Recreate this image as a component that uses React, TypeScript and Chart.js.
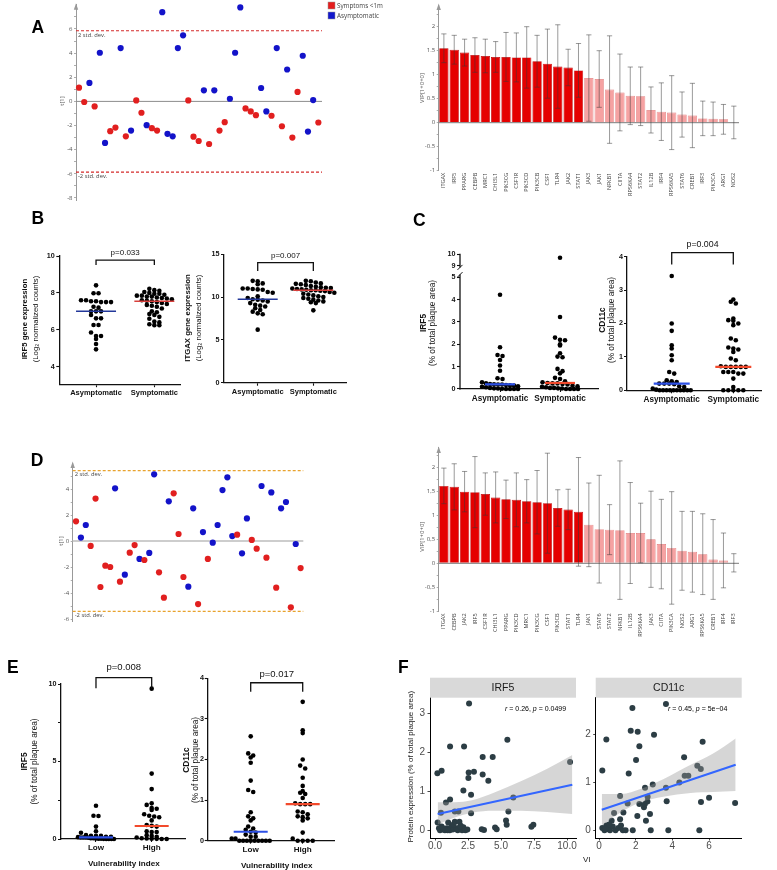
import React, { useEffect, useRef } from 'react';
import { Chart, registerables } from 'chart.js';

Chart.register(...registerables);

const PW = 777;
const PH = 870;
const ARIAL = "'Liberation Sans', Arial, Helvetica, sans-serif";
const SIMCA = "'Open Sans', 'Noto Sans', 'DejaVu Sans', sans-serif";

/* ======================= DATA ======================= */
// Panel A - PLS-DA scores t[1] (S = Symptoms <1m, A = Asymptomatic)
const scoresA = [1.14, -0.05, 1.53, -0.42, 4.03, -3.44, -2.47, -2.17, 4.42, -2.89, -2.42, 0.08, -0.94, -1.97, -2.22, -2.42, 7.39, -2.69, -2.89, 4.42, 5.47, 0.08, -2.92, -3.28, 0.92, -3.53, 0.92, -2.42, -1.72, 0.22, 4.03, 7.78, -0.58, -0.83, -1.14, 1.11, -0.83, -1.19, 4.42, -2.06, 2.64, -3.0, 0.78, 3.78, -2.5, 0.11, -1.75];
const classesA = 'SSASAASSASASSASSAAAAASSSASASSAAASSSAASASASSAAAS'.split('');
const scoreTicksA = [-8, -7, -6, -5, -4, -3, -2, -1, 0, 1, 2, 3, 4, 5, 6, 7];
const scoreLabelsA = [-8, -6, -4, -2, 0, 2, 4, 6];
const sdA = 5.85;

// Panel D - scores t[1]
const scoresD = [1.51, 0.26, 1.23, -0.38, 3.26, -3.54, -1.9, -2.0, 4.05, -3.13, -2.59, -0.9, -0.31, -1.38, -1.46, -0.92, 5.13, -2.41, -4.36, 3.05, 3.67, 0.54, -2.77, -3.51, 2.51, -4.85, 0.69, -1.38, -0.13, 1.23, 3.92, 4.9, 0.38, 0.49, -0.95, 1.74, 0.08, -0.59, 4.23, -1.28, 3.74, -3.59, 2.51, 3.0, -5.1, -0.23, -2.08];
const classesD = 'SAASSSSSASASSASAASSASSSAASASAAAAASAASSASASAASAS'.split('');
const scoreTicksD = [-6, -5, -4, -3, -2, -1, 0, 1, 2, 3, 4, 5];
const scoreLabelsD = [-6, -4, -2, 0, 2, 4];
const sdD = 5.41;

// Panel A / D - VIP bars
const genesA = ['ITGAX', 'IRF5', 'PPARG', 'CEBPB', 'MRC1', 'CHI3L1', 'PIK3CG', 'CSF1R', 'PIK3CD', 'PIK3CB', 'CSF1', 'TLR4', 'JAK2', 'STAT1', 'JAK3', 'JAK1', 'NFKB1', 'CIITA', 'RPS6KA4', 'STAT2', 'IL12B', 'IRF4', 'RPS6KA5', 'STAT6', 'CREB1', 'IRF3', 'PIK3CA', 'ARG1', 'NOS2'];
const vipA = [1.55, 1.52, 1.46, 1.41, 1.39, 1.37, 1.37, 1.36, 1.36, 1.28, 1.23, 1.17, 1.15, 1.09, 0.93, 0.91, 0.69, 0.63, 0.56, 0.55, 0.265, 0.23, 0.21, 0.17, 0.15, 0.09, 0.08, 0.07, 0.005];
const vipErrA = [0.3, 0.3, 0.28, 0.36, 0.35, 0.32, 0.51, 0.51, 0.64, 0.54, 0.72, 0.87, 0.38, 0.56, 0.9, 0.59, 1.12, 0.8, 0.6, 0.61, 0.48, 0.6, 0.77, 0.47, 0.67, 0.36, 0.35, 0.31, 0.34];
const genesD = ['ITGAX', 'CEBPB', 'JAK2', 'IRF5', 'CSF1R', 'CHI3L1', 'PPARG', 'PIK3CD', 'MRC1', 'PIK3CG', 'CSF1', 'PIK3CB', 'STAT1', 'TLR4', 'JAK1', 'STAT6', 'STAT2', 'NFKB1', 'IL12B', 'RPS6KA4', 'JAK3', 'CIITA', 'PIK3CA', 'NOS2', 'ARG1', 'RPS6KA5', 'CREB1', 'IRF4', 'IRF3'];
const vipD = [1.61, 1.59, 1.49, 1.48, 1.44, 1.37, 1.33, 1.32, 1.29, 1.27, 1.25, 1.15, 1.12, 1.07, 0.8, 0.71, 0.7, 0.69, 0.63, 0.63, 0.5, 0.4, 0.32, 0.26, 0.24, 0.19, 0.08, 0.06, 0.01];
const vipErrD = [0.37, 0.48, 0.42, 0.74, 0.44, 0.53, 0.4, 0.56, 0.45, 0.66, 1.04, 0.38, 0.42, 1.13, 0.87, 1.12, 0.52, 1.44, 1.05, 0.62, 1.0, 0.93, 1.17, 0.82, 0.84, 0.84, 0.83, 0.57, 0.19];
const vipTicks = [-1, -0.75, -0.5, -0.25, 0, 0.25, 0.5, 0.75, 1, 1.25, 1.5, 1.75, 2, 2.25];
const vipLabels = [-1, -0.5, 0, 0.5, 1, 1.5, 2];

// Panel B - gene expression (log2 normalized counts)
const groupsSympt = ['Asymptomatic', 'Symptomatic'];
const irf5GeneAsym = [8.41, 7.98, 7.98, 7.6, 7.6, 7.55, 7.55, 7.5, 7.5, 7.5, 7.25, 7.2, 7.0, 7.0, 7.0, 6.8, 6.62, 6.62, 6.26, 6.26, 5.85, 5.66, 5.66, 5.5, 5.23, 4.94];
const irf5GeneSym = [8.22, 8.15, 8.12, 8.05, 8.0, 7.95, 7.95, 7.9, 7.85, 7.85, 7.8, 7.8, 7.75, 7.72, 7.7, 7.65, 7.6, 7.58, 7.55, 7.5, 7.45, 7.4, 7.35, 7.3, 7.25, 7.15, 7.0, 6.95, 6.85, 6.8, 6.7, 6.6, 6.45, 6.4, 6.3, 6.25, 6.25];
const itgaxGeneAsym = [11.9, 11.85, 11.6, 11.5, 11.0, 11.0, 10.95, 10.9, 10.85, 10.6, 10.5, 10.1, 9.9, 9.75, 9.7, 9.6, 9.5, 9.3, 9.1, 9.0, 8.9, 8.7, 8.5, 8.3, 8.1, 8.0, 6.2];
const itgaxGeneSym = [11.9, 11.85, 11.7, 11.6, 11.55, 11.5, 11.4, 11.3, 11.2, 11.15, 11.1, 11.05, 11.0, 10.95, 10.9, 10.85, 10.8, 10.8, 10.75, 10.7, 10.6, 10.5, 10.4, 10.3, 10.2, 10.1, 10.0, 9.9, 9.8, 9.7, 9.6, 9.5, 9.4, 9.3, 8.45];
const medianIrf5Gene = [7.0, 7.55];
const medianItgaxGene = [9.74, 10.79];

// Panel C - protein (% of total plaque area)
const irf5ProtAsym = [4.22, 1.87, 1.52, 1.48, 1.3, 1.05, 0.82, 0.48, 0.45, 0.3, 0.25, 0.22, 0.21, 0.2, 0.2, 0.18, 0.17, 0.15, 0.12, 0.1, 0.08, 0.05, 0.03, 0.02, 0.01, 0.0, 0.0, 0.0, 0.0];
const irf5ProtSym = [9.7, 3.22, 2.3, 2.2, 2.18, 2.0, 1.95, 1.6, 1.45, 1.42, 0.9, 0.8, 0.7, 0.5, 0.45, 0.35, 0.3, 0.27, 0.25, 0.25, 0.22, 0.2, 0.15, 0.12, 0.1, 0.08, 0.05, 0.05, 0.03, 0.02, 0.0, 0.0, 0.0, 0.0];
const cd11cProtAsym = [3.42, 2.0, 1.78, 1.35, 1.25, 1.05, 0.9, 0.55, 0.5, 0.3, 0.27, 0.25, 0.2, 0.2, 0.2, 0.18, 0.12, 0.1, 0.05, 0.02, 0, 0, 0, 0, 0, 0, 0, 0, 0, 0];
const cd11cProtSym = [2.72, 2.65, 2.6, 2.15, 2.1, 2.08, 2.0, 1.95, 1.55, 1.5, 1.28, 1.25, 1.22, 1.15, 0.95, 0.9, 0.72, 0.7, 0.7, 0.7, 0.7, 0.7, 0.55, 0.55, 0.55, 0.5, 0.5, 0.35, 0.1, 0, 0, 0, 0, 0];
const medianIrf5Prot = [0.21, 0.27];
const medianCd11cProt = [0.2, 0.7];

// Panel E - by vulnerability index
const groupsVI = ['Low', 'High'];
const irf5Low = [2.15, 1.5, 1.48, 0.8, 0.5, 0.4, 0.25, 0.2, 0.2, 0.2, 0.15, 0.15, 0.12, 0.1, 0.1, 0.1, 0.08, 0.05, 0.05, 0.03, 0.02, 0.02, 0.01, 0, 0, 0, 0];
const irf5High = [9.7, 4.22, 3.22, 2.3, 2.2, 2.0, 1.95, 1.87, 1.6, 1.5, 1.45, 1.4, 1.2, 0.9, 0.85, 0.8, 0.5, 0.45, 0.45, 0.25, 0.2, 0.15, 0.1, 0.05, 0.03, 0.02, 0.01, 0, 0];
const cd11cLow = [2.57, 2.15, 2.1, 2.05, 1.92, 1.48, 1.25, 1.2, 0.7, 0.6, 0.55, 0.5, 0.35, 0.3, 0.27, 0.22, 0.2, 0.15, 0.1, 0.1, 0.05, 0.05, 0, 0, 0, 0, 0, 0, 0, 0, 0];
const cd11cHigh = [3.42, 2.72, 2.65, 2.0, 1.85, 1.78, 1.55, 1.35, 1.22, 1.18, 1.15, 1.05, 0.92, 0.9, 0.9, 0.9, 0.72, 0.7, 0.65, 0.6, 0.58, 0.55, 0.5, 0.2, 0.05, 0, 0, 0, 0];
const medianIrf5VI = [0.1, 0.84];
const medianCd11cVI = [0.22, 0.9];

// Panel F - correlation with VI
const viIrf5 = [2.58, 0.18, 0.5, 1.14, 2.2, 5.48, 3.61, 4.37, 2.55, 2.95, 2.53, 3.61, 4.04, 2.15, 2.73, 1.14, 0.83, 0.45, 2.73, 5.56, 5.93, 10.23, 7.45, 7.3, 5.38, 5.43, 4.55, 4.67, 3.54, 3.71, 1.5, 1.77, 0.2, 0.3, 0.38, 0.5, 0.62, 0.75, 0.9, 1.0, 1.12, 1.25, 1.35, 1.5, 1.6, 1.72, 1.85, 1.95, 2.05, 2.15, 2.3, 2.45, 1.4, 0.95, 0.6, 1.9];
const protIrf5 = [3.25, 1.46, 1.53, 2.15, 2.15, 2.32, 1.88, 1.88, 1.48, 1.5, 1.34, 1.43, 1.27, 1.02, 0.91, 0.79, 0.71, 0.45, 0.44, 0.48, 0.84, 1.75, 0.14, 0.09, 0.25, 0.14, 0.07, 0.03, 0.03, 0.01, 0.48, 0.48, 0.2, 0.05, 0.0, 0.1, 0.02, 0.0, 0.05, 0.2, 0.0, 0.1, 0.02, 0.22, 0.05, 0.0, 0.22, 0.12, 0.0, 0.08, 0.0, 0.02, 0.15, 0.0, 0.05, 0.1];
const viCd11c = [3.65, 1.82, 1.73, 2.11, 3.0, 0.4, 2.2, 5.65, 2.02, 4.64, 5.36, 5.55, 4.67, 4.87, 0.18, 1.62, 4.38, 2.93, 2.51, 3.65, 2.65, 2.64, 1.15, 1.56, 2.2, 3.69, 5.56, 6.0, 7.42, 2.45, 1.33, 2.09, 2.78, 2.56, 0.82, 1.15, 0.69, 1.84, 2.82, 3.78, 5.47, 0.18, 0.3, 0.4, 0.5, 0.6, 0.75, 0.9, 1.05, 1.3, 1.45, 0.55, 0.35, 1.2, 2.5];
const protCd11c = [2.64, 2.56, 2.08, 2.06, 2.0, 1.9, 1.76, 1.85, 1.47, 1.53, 1.35, 1.28, 1.14, 1.14, 1.25, 1.19, 1.0, 0.96, 0.89, 0.89, 0.7, 0.6, 0.72, 0.56, 0.55, 0.61, 0.59, 0.68, 0.57, 0.48, 0.37, 0.3, 0.34, 0.2, 0.36, 0.23, 0.2, 0.0, 0.0, 0.0, 0.0, 0.05, 0.0, 0.1, 0.02, 0.0, 0.08, 0.0, 0.05, 0.0, 0.0, 0.12, 0.03, 0.1, 0.55];
const fitIrf5 = [[0.2, 0.42], [10.4, 1.17]];
const bandXIrf5 = [0.2, 1.5, 2.8, 4.5, 6.5, 8.5, 10.4];
const bandLoIrf5 = [0.15, 0.33, 0.45, 0.5, 0.5, 0.47, 0.42];
const bandHiIrf5 = [0.72, 0.72, 0.77, 0.97, 1.26, 1.58, 1.93];
const fitCd11c = [[0.15, 0.43], [7.45, 1.37]];
const bandXCd11c = [0.15, 1.2, 2.3, 3.5, 5.0, 6.2, 7.45];
const bandLoCd11c = [0.1, 0.38, 0.59, 0.7, 0.78, 0.8, 0.82];
const bandHiCd11c = [0.76, 0.76, 0.87, 1.07, 1.37, 1.6, 1.92];
const fTicksXIrf5 = [0, 2.5, 5, 7.5, 10];
const fTicksYIrf5 = [0, 1, 2, 3];
const fTicksXCd11c = [0, 2, 4, 6];
const fTicksYCd11c = [0, 1, 2];

/* ======================= HELPERS ======================= */
const fitTo = (size: number) => (s: any) => {
  if (s.isHorizontal()) s.height = size;
  else s.width = size;
  s.paddingLeft = 0;
  s.paddingRight = 0;
  s.paddingTop = 0;
  s.paddingBottom = 0;
};

// chart area placed at [l,t,r,b]; the y axis box is W wide and the x axis box is H high
function base(l: number, t: number, r: number, b: number, W: number, H: number) {
  return {
    animation: false,
    responsive: false,
    maintainAspectRatio: false,
    devicePixelRatio: 1,
    events: [],
    layout: { padding: { left: l - W, top: t, right: PW - r, bottom: PH - b - H } },
    plugins: { legend: { display: false }, tooltip: { enabled: false }, title: { display: false } },
  };
}

function drawText(ctx: any, text: string, x: number, y: number, font: string, color: string, align = 'center', baseline = 'middle', rot = 0) {
  ctx.save();
  ctx.translate(x, y);
  if (rot) ctx.rotate(rot);
  ctx.font = font;
  ctx.fillStyle = color;
  ctx.textAlign = align;
  ctx.textBaseline = baseline;
  ctx.fillText(text, 0, 0);
  ctx.restore();
}

function line(ctx: any, x1: number, y1: number, x2: number, y2: number) {
  ctx.beginPath();
  ctx.moveTo(x1, y1);
  ctx.lineTo(x2, y2);
  ctx.stroke();
}

function axisArrow(ctx: any, x: number, top: number, color: string) {
  ctx.save();
  ctx.fillStyle = color;
  ctx.beginPath();
  ctx.moveTo(x, top - 1.5);
  ctx.lineTo(x - 2.2, top + 5);
  ctx.lineTo(x + 2.2, top + 5);
  ctx.closePath();
  ctx.fill();
  ctx.restore();
}

// GraphPad-like row swarm layout (deterministic, from values)
function swarm(values: number[], center: number, pxX: number, pxY: number, step: number, rowH: number, maxW: number) {
  const rows = new Map<number, number[]>();
  values.forEach((v) => {
    const k = Math.round((v * pxY) / rowH);
    if (!rows.has(k)) rows.set(k, []);
    rows.get(k)!.push(v);
  });
  const out: any[] = [];
  rows.forEach((vals) => {
    const n = vals.length;
    const s = n > 1 ? Math.min(step, maxW / (n - 1)) : step;
    vals.forEach((v, i) => out.push({ x: center + ((i - (n - 1) / 2) * s) / pxX, y: v }));
  });
  return out;
}

/* ---------- SIMCA score plot ---------- */
function scoreChart(p: any) {
  const [l, t, r, b] = p.area;
  const red: any[] = [];
  const blue: any[] = [];
  p.scores.forEach((v: number, i: number) => (p.classes[i] === 'S' ? red : blue).push({ x: i + 1, y: v }));
  const dot = { pointRadius: 3.1, pointHoverRadius: 3.1, pointBorderWidth: 0, clip: false };
  return {
    type: 'scatter',
    data: {
      datasets: [
        { ...dot, data: red, pointBackgroundColor: '#e11f1f' },
        { ...dot, data: blue, pointBackgroundColor: '#1313c9' },
      ],
    },
    options: {
      ...base(l, t, r, b, 30, 0),
      scales: {
        x: { type: 'linear', display: false, min: p.xMin, max: p.xMax, afterFit: fitTo(0) },
        y: {
          type: 'linear', min: p.yMin, max: p.yMax, afterFit: fitTo(30),
          afterBuildTicks: (s: any) => { s.ticks = p.ticks.map((v: number) => ({ value: v })); },
          ticks: { callback: (v: number) => (p.labels.includes(v) ? String(v) : ''), font: { family: SIMCA, size: 6 }, color: '#555', padding: 1.5 },
          grid: { drawOnChartArea: false, drawTicks: true, tickLength: 2, tickColor: '#999', tickWidth: 0.8 },
          border: { color: '#999', width: 1 },
        },
      },
    },
    plugins: [
      {
        id: 'scoreDeco',
        beforeDatasetsDraw(chart: any) {
          const { ctx, chartArea: ca, scales } = chart;
          const y = scales.y;
          ctx.save();
          ctx.strokeStyle = p.zeroColor;
          ctx.lineWidth = p.zeroWidth;
          line(ctx, ca.left, y.getPixelForValue(0), ca.right, y.getPixelForValue(0));
          ctx.strokeStyle = p.sdColor;
          ctx.lineWidth = 1.2;
          ctx.setLineDash([3, 2]);
          [p.sd, -p.sd].forEach((v: number) => line(ctx, ca.left, y.getPixelForValue(v), ca.right, y.getPixelForValue(v)));
          ctx.restore();
          const f = `5.8px ${SIMCA}`;
          drawText(ctx, '2 std. dev.', ca.left + 2, y.getPixelForValue(p.sd) + p.sdLabelGap, f, '#444', 'left');
          drawText(ctx, '-2 std. dev.', ca.left + 2, y.getPixelForValue(-p.sd) + p.sdLabelGap, f, '#444', 'left');
        },
        afterDraw(chart: any) {
          const { ctx, chartArea: ca } = chart;
          axisArrow(ctx, ca.left, ca.top, '#999');
          drawText(ctx, 't[1]', p.titleX, p.titleY, `6px ${SIMCA}`, '#555', 'center', 'middle', -Math.PI / 2);
          if (p.legend) {
            p.legend.forEach((it: any) => {
              ctx.save();
              ctx.fillStyle = it.color;
              ctx.fillRect(it.x, it.y, 7, 7);
              ctx.strokeStyle = '#999';
              ctx.lineWidth = 0.5;
              ctx.strokeRect(it.x, it.y, 7, 7);
              ctx.restore();
              drawText(ctx, it.text, it.x + 9, it.y + 3.8, `6.3px ${SIMCA}`, '#444', 'left');
            });
          }
          if (p.letters) {
            p.letters.forEach((lt: any) => drawText(ctx, lt[0], lt[1], lt[2], `bold 17.5px ${ARIAL}`, '#000', 'left', 'alphabetic'));
          }
        },
      },
    ],
  };
}

/* ---------- SIMCA VIP bar plot ---------- */
function vipChart(p: any) {
  const [l, t, r, b] = p.area;
  const fill = p.vip.map((_: number, i: number) => (i < p.nDark ? '#e50000' : '#f6a2a2'));
  const stroke = p.vip.map((_: number, i: number) => (i < p.nDark ? '#b80000' : '#e07a7a'));
  return {
    type: 'bar',
    data: {
      labels: p.genes,
      datasets: [{ data: p.vip, backgroundColor: fill, borderColor: stroke, borderWidth: 0.7, barPercentage: 0.9, categoryPercentage: 1 }],
    },
    options: {
      ...base(l, t, r, b, 30, 34),
      scales: {
        x: {
          type: 'category', afterFit: fitTo(34),
          grid: { display: false, drawTicks: false }, border: { display: false },
          ticks: { font: { family: SIMCA, size: 5.6 }, color: '#444', minRotation: 90, maxRotation: 90, padding: 2, autoSkip: false },
        },
        y: {
          type: 'linear', min: -1, max: p.yMax, afterFit: fitTo(30),
          afterBuildTicks: (s: any) => { s.ticks = vipTicks.map((v) => ({ value: v })); },
          ticks: { callback: (v: number) => (vipLabels.includes(v) ? String(v).replace('.', p.dec) : ''), font: { family: SIMCA, size: 6 }, color: '#555', padding: 1.5 },
          grid: { drawOnChartArea: false, drawTicks: true, tickLength: 2, tickColor: '#999', tickWidth: 0.8 },
          border: { color: '#999', width: 1 },
        },
      },
    },
    plugins: [
      {
        id: 'vipDeco',
        afterDatasetsDraw(chart: any) {
          const { ctx, chartArea: ca, scales } = chart;
          const xs = scales.x;
          const ys = scales.y;
          ctx.save();
          ctx.strokeStyle = '#7a7a7a';
          ctx.lineWidth = 1;
          line(ctx, ca.left, ys.getPixelForValue(0), ca.right, ys.getPixelForValue(0));
          ctx.strokeStyle = 'rgba(55,55,55,0.5)';
          p.vip.forEach((v: number, i: number) => {
            const x = xs.getPixelForValue(i);
            const y1 = ys.getPixelForValue(v + p.err[i]);
            const y2 = ys.getPixelForValue(v - p.err[i]);
            line(ctx, x, y1, x, y2);
            line(ctx, x - 2.6, y1, x + 2.6, y1);
            line(ctx, x - 2.6, y2, x + 2.6, y2);
          });
          ctx.restore();
        },
        afterDraw(chart: any) {
          const { ctx, chartArea: ca } = chart;
          axisArrow(ctx, ca.left, ca.top, '#999');
          drawText(ctx, 'VIP[1+0+0]', p.titleX, p.titleY, `6px ${SIMCA}`, '#555', 'center', 'middle', -Math.PI / 2);
        },
      },
    ],
  };
}

/* ---------- GraphPad dot plot ---------- */
const GP_COL = '#111';
function gpYScale(p: any, min: number, max: number, ticks: number[], labels: number[], showBorder: boolean) {
  return {
    type: 'linear', position: 'left', min, max, afterFit: fitTo(40),
    afterBuildTicks: (s: any) => { s.ticks = ticks.map((v) => ({ value: v })); },
    ticks: { callback: (v: number) => (labels.includes(v) ? String(v) : ''), font: { family: ARIAL, size: p.tickSize, weight: 'bold' }, color: GP_COL, padding: p.tickPad ?? 1.5 },
    grid: { drawOnChartArea: false, drawTicks: true, tickLength: 3, tickColor: GP_COL, tickWidth: 1.1 },
    border: { display: showBorder, color: GP_COL, width: 1.3 },
  };
}

function dotPlot(p: any) {
  const [l, t0, r, b] = p.area;
  const t = p.brk ? p.brk.split : t0;
  const pxX = (r - l) / (p.xMax - p.xMin);
  const pxY = (b - t) / (p.yMax - p.yMin);
  const datasets: any[] = [];
  const dot = { type: 'scatter', pointRadius: p.dotR, pointHoverRadius: p.dotR, pointBackgroundColor: '#000', pointBorderWidth: 0, order: 2, clip: false };
  p.groups.forEach((vals: number[], gi: number) => {
    const low = vals.filter((v) => v <= p.yMax);
    datasets.push({ ...dot, data: swarm(low, gi, pxX, pxY, p.step, p.row, p.maxW) });
  });
  p.medians.forEach((m: number, gi: number) => {
    const hw = p.medHalf / pxX;
    datasets.push({ type: 'line', data: [{ x: gi - hw, y: m }, { x: gi + hw, y: m }], borderColor: p.medColors[gi], borderWidth: p.medWidth, pointRadius: 0, order: 1, clip: false });
  });
  if (p.bracket) {
    const bk = p.bracket;
    datasets.push({
      type: 'line',
      data: [{ x: 0, y: bk.leg }, { x: 0, y: bk.top }, { x: 1, y: bk.top }, { x: 1, y: bk.leg }],
      borderColor: GP_COL, borderWidth: 1.3, pointRadius: 0, order: 0, clip: false, borderJoinStyle: 'miter',
    });
  }
  const scales: any = {
    x: {
      type: 'linear', min: p.xMin, max: p.xMax, afterFit: fitTo(22),
      afterBuildTicks: (s: any) => { s.ticks = p.labels.map((_: string, i: number) => ({ value: i })); },
      ticks: { callback: (v: number) => p.labels[v] ?? '', font: { family: ARIAL, size: p.labelSize, weight: 'bold' }, color: GP_COL, padding: p.labelPad, autoSkip: false, maxRotation: 0 },
      grid: { drawOnChartArea: false, drawTicks: true, tickLength: 3, tickColor: GP_COL, tickWidth: 1.1 },
      border: { color: GP_COL, width: 1.3 },
    },
    y: gpYScale(p, p.yMin, p.yMax, p.yTicks, p.yLabels, !p.brk),
  };
  return {
    type: 'scatter',
    data: { datasets },
    options: { ...base(l, t, r, b, 40, 22), scales },
    plugins: [
      {
        id: 'dotDeco',
        afterDraw(chart: any) {
          const { ctx, chartArea: ca, scales: sc } = chart;
          const rot = -Math.PI / 2;
          drawText(ctx, p.title[0], p.titleX[0], p.titleY, `bold ${p.titleSize}px ${ARIAL}`, GP_COL, 'center', 'middle', rot);
          drawText(ctx, p.title[1], p.titleX[1], p.titleY, `${p.titleSize}px ${ARIAL}`, GP_COL, 'center', 'middle', rot);
          const x0 = sc.x.getPixelForValue(0);
          const x1 = sc.x.getPixelForValue(1);
          if (p.bracket) {
            drawText(ctx, p.bracket.text, (x0 + x1) / 2, sc.y.getPixelForValue(p.bracket.top) - p.bracket.gap, `${p.bracket.size}px ${ARIAL}`, GP_COL);
          }
          if (p.xTitle) drawText(ctx, p.xTitle, (x0 + x1) / 2, p.xTitleY, `bold ${p.labelSize}px ${ARIAL}`, GP_COL);
          if (p.brk) {
            const x = ca.left;
            const a = sc.y.getPixelForValue(p.brk.lowEnd);
            ctx.save();
            ctx.strokeStyle = GP_COL;
            ctx.lineWidth = 1.3;
            line(ctx, x, sc.y.getPixelForValue(p.yMin) + 0.6, x, a);
            ctx.lineWidth = 1;
            line(ctx, x - 2.5, a + 2.5, x + 2.5, a - 2.5);
            ctx.restore();
          }
        },
      },
    ],
  };
}

// upper segment of a broken y axis (values above the lower axis maximum)
function dotPlotTop(p: any) {
  const [l, t, r] = p.area;
  const b = p.brk.split;
  const datasets = p.groups.map((vals: number[], gi: number) => ({
    type: 'scatter',
    data: vals.filter((v) => v > p.yMax).map((v) => ({ x: gi, y: v })),
    pointRadius: p.dotR, pointHoverRadius: p.dotR, pointBackgroundColor: '#000', pointBorderWidth: 0, clip: false,
  }));
  return {
    type: 'scatter',
    data: { datasets },
    options: {
      ...base(l, t, r, b, 40, 0),
      scales: {
        x: { type: 'linear', display: false, min: p.xMin, max: p.xMax, afterFit: fitTo(0) },
        y: gpYScale(p, p.brk.min, p.brk.max, p.brk.ticks, p.brk.ticks, false),
      },
    },
    plugins: [
      {
        id: 'brkTop',
        afterDraw(chart: any) {
          const { ctx, chartArea: ca, scales: sc } = chart;
          const x = ca.left;
          const c = sc.y.getPixelForValue(p.brk.highStart);
          ctx.save();
          ctx.strokeStyle = GP_COL;
          ctx.lineWidth = 1.3;
          line(ctx, x, c, x, sc.y.getPixelForValue(p.brk.max) - 0.6);
          ctx.lineWidth = 1;
          line(ctx, x - 2.5, c + 2.5, x + 2.5, c - 2.5);
          ctx.restore();
        },
      },
    ],
  };
}

/* ---------- ggplot facet ---------- */
function facetChart(p: any) {
  const [l, t, r, b] = p.area;
  const tickFont = { family: ARIAL, size: 10 };
  const tickCol = '#4d4d4d';
  const pts = p.vi.map((v: number, i: number) => ({ x: v, y: p.prot[i] }));
  return {
    type: 'scatter',
    data: {
      datasets: [
        { type: 'scatter', data: pts, pointRadius: 3, pointHoverRadius: 3, pointBackgroundColor: '#2c3d44', pointBorderWidth: 0, order: 2, clip: false },
        { type: 'line', data: p.bandX.map((x: number, i: number) => ({ x, y: p.bandHi[i] })), borderColor: 'rgba(0,0,0,0)', pointRadius: 0, fill: false, cubicInterpolationMode: 'monotone', order: 1 },
        { type: 'line', data: p.bandX.map((x: number, i: number) => ({ x, y: p.bandLo[i] })), borderColor: 'rgba(0,0,0,0)', pointRadius: 0, fill: '-1', backgroundColor: 'rgba(153,153,153,0.4)', cubicInterpolationMode: 'monotone', order: 1 },
        { type: 'line', data: p.fit.map((q: number[]) => ({ x: q[0], y: q[1] })), borderColor: '#3366ff', borderWidth: 2, pointRadius: 0, order: 0 },
      ],
    },
    options: {
      ...base(l, t, r, b, 25, 20),
      scales: {
        x: {
          type: 'linear', min: p.xMin, max: p.xMax, afterFit: fitTo(20),
          afterBuildTicks: (s: any) => { s.ticks = p.xTicks.map((v: number) => ({ value: v })); },
          ticks: { callback: p.xFmt, font: tickFont, color: tickCol, padding: 0, autoSkip: false, maxRotation: 0 },
          grid: { drawOnChartArea: false, drawTicks: true, tickLength: 2.5, tickColor: '#333', tickWidth: 0.9 },
          border: { color: '#000', width: 1 },
        },
        y: {
          type: 'linear', min: p.yMin, max: p.yMax, afterFit: fitTo(25),
          afterBuildTicks: (s: any) => { s.ticks = p.yTicks.map((v: number) => ({ value: v })); },
          ticks: { callback: (v: number) => String(v), font: tickFont, color: tickCol, padding: 2.5 },
          grid: { drawOnChartArea: false, drawTicks: true, tickLength: 2.5, tickColor: '#333', tickWidth: 0.9 },
          border: { color: '#000', width: 1 },
        },
      },
    },
    plugins: [
      {
        id: 'facetDeco',
        afterDraw(chart: any) {
          const { ctx, chartArea: ca } = chart;
          ctx.save();
          ctx.fillStyle = '#d9d9d9';
          ctx.fillRect(ca.left, ca.top - 20, ca.right - ca.left, 20);
          ctx.restore();
          drawText(ctx, p.strip, (ca.left + ca.right) / 2, ca.top - 10, `10.5px ${ARIAL}`, '#1a1a1a');
          let cx = p.annX;
          ctx.save();
          ctx.fillStyle = '#000';
          ctx.textAlign = 'left';
          ctx.textBaseline = 'middle';
          p.annot.forEach((part: any) => {
            ctx.font = `${part[1] ? 'italic ' : ''}7px ${ARIAL}`;
            ctx.fillText(part[0], cx, p.annY);
            cx += ctx.measureText(part[0]).width;
          });
          ctx.restore();
          if (p.yTitle) drawText(ctx, p.yTitle, p.yTitleX, p.yTitleY, `8px ${ARIAL}`, '#1a1a1a', 'center', 'middle', -Math.PI / 2);
          if (p.xTitle) drawText(ctx, p.xTitle, p.xTitleX, p.xTitleY, `8px ${ARIAL}`, '#1a1a1a');
        },
      },
    ],
  };
}

/* ======================= CHARTS ======================= */
const gpCommon = { dotR: 2.3, step: 5.0, row: 4.6, tickSize: 7.2 };

const panelC1 = {
  ...gpCommon, area: [460, 254.3, 598.3, 389], xMin: -0.667, xMax: 1.638, yMin: 0, yMax: 5.25,
  yTicks: [0, 1, 2, 3, 4, 5], yLabels: [0, 1, 2, 3, 4, 5], labels: groupsSympt, labelSize: 8.2, labelPad: 2,
  brk: { split: 271.7, min: 8.47, max: 10, ticks: [9, 10], lowEnd: 5.12, highStart: 8.85 },
  groups: [irf5ProtAsym, irf5ProtSym], medians: medianIrf5Prot, medHalf: 15, medWidth: 2.2, medColors: ['#2d50e6', '#f24a2c'], maxW: 36,
  title: ['IRF5', '(% of total plaque area)'], titleX: [423.3, 432.7], titleY: 323, titleSize: 8.3,
};

const makers: Array<() => any> = [
  () => scoreChart({
    area: [76, 4.8, 322, 200.4], xMin: 0.42, xMax: 47.7, yMin: -8.2, yMax: 8,
    scores: scoresA, classes: classesA, ticks: scoreTicksA, labels: scoreLabelsA,
    sd: sdA, sdColor: '#d42a2a', sdLabelGap: 4.8, zeroColor: '#8c8c8c', zeroWidth: 1,
    titleX: 62, titleY: 101,
    legend: [
      { color: '#e41e1e', text: 'Symptoms <1m', x: 328, y: 2 },
      { color: '#1218cc', text: 'Asymptomatic', x: 328, y: 12 },
    ],
    letters: [['A', 31.5, 33.3], ['B', 31.5, 224.3], ['C', 413, 225.5], ['D', 30.7, 466], ['E', 7, 673.3], ['F', 398, 673.3]],
  }),
  () => vipChart({ area: [438.7, 5.1, 739, 170.7], yMax: 2.45, genes: genesA, vip: vipA, err: vipErrA, nDark: 14, dec: '.', titleX: 422, titleY: 88 }),
  () => dotPlot({
    ...gpCommon, area: [59.3, 256, 180, 384.2], xMin: -0.63, xMax: 1.44, yMin: 3.05, yMax: 10,
    yTicks: [4, 6, 8, 10], yLabels: [4, 6, 8, 10], labels: groupsSympt, labelSize: 7.5, labelPad: 1.3,
    groups: [irf5GeneAsym, irf5GeneSym], medians: medianIrf5Gene, medHalf: 20, medWidth: 1.5, medColors: ['#23389a', '#d8403c'], maxW: 42,
    bracket: { top: 9.78, leg: 9.51, text: 'p=0.033', gap: 7.5, size: 8 },
    title: ['IRF5 gene expression', '(Log\u2082 normalized counts)'], titleX: [25, 36], titleY: 319, titleSize: 7.8,
  }),
  () => dotPlot({
    ...gpCommon, area: [224, 254.3, 346.7, 382.7], xMin: -0.606, xMax: 1.6, yMin: 0, yMax: 15,
    yTicks: [0, 5, 10, 15], yLabels: [0, 5, 10, 15], labels: groupsSympt, labelSize: 7.5, labelPad: 1.3,
    groups: [itgaxGeneAsym, itgaxGeneSym], medians: medianItgaxGene, medHalf: 20, medWidth: 1.5, medColors: ['#23389a', '#d8403c'], maxW: 42,
    bracket: { top: 14.02, leg: 13.05, text: 'p=0.007', gap: 7, size: 8 },
    title: ['ITGAX gene expression', '(Log\u2082 normalized counts)'], titleX: [188, 199], titleY: 318, titleSize: 7.8,
  }),
  () => dotPlot(panelC1),
  () => dotPlotTop(panelC1),
  () => dotPlot({
    ...gpCommon, area: [627, 256.7, 761.7, 390.3], xMin: -0.726, xMax: 1.461, yMin: 0, yMax: 4,
    yTicks: [0, 1, 2, 3, 4], yLabels: [0, 1, 2, 3, 4], labels: groupsSympt, labelSize: 8.2, labelPad: 2,
    groups: [cd11cProtAsym, cd11cProtSym], medians: medianCd11cProt, medHalf: 18, medWidth: 2.2, medColors: ['#2d50e6', '#f24a2c'], maxW: 38,
    bracket: { top: 4.12, leg: 3.77, text: 'p=0.004', gap: 7.7, size: 8.8 },
    title: ['CD11c', '(% of total plaque area)'], titleX: [603, 612], titleY: 320, titleSize: 8.3, tickPad: 1,
  }),
  () => scoreChart({
    area: [72.7, 463, 303.3, 621.6], xMin: 0.32, xMax: 47.55, yMin: -6.2, yMax: 6.0,
    scores: scoresD, classes: classesD, ticks: scoreTicksD, labels: scoreLabelsD,
    sd: sdD, sdColor: '#e8a32e', sdLabelGap: 4, zeroColor: '#cdcdcd', zeroWidth: 2,
    titleX: 61, titleY: 541,
  }),
  () => vipChart({ area: [438.7, 447.9, 739, 611.4], yMax: 2.4, genes: genesD, vip: vipD, err: vipErrD, nDark: 14, dec: ',', titleX: 422.3, titleY: 536.7 }),
  () => dotPlot({
    ...gpCommon, area: [61, 684, 185, 839], xMin: -0.628, xMax: 1.598, yMin: 0, yMax: 10,
    yTicks: [0, 2.5, 5, 7.5, 10], yLabels: [0, 5, 10], labels: groupsVI, labelSize: 8.1, labelPad: 1.4,
    groups: [irf5Low, irf5High], medians: medianIrf5VI, medHalf: 17, medWidth: 2.2, medColors: ['#2d50e6', '#f24a2c'], maxW: 36,
    bracket: { top: 10.41, leg: 9.72, text: 'p=0.008', gap: 10.4, size: 9.5 },
    xTitle: 'Vulnerability index', xTitleY: 863.3,
    title: ['IRF5', '(% of total plaque area)'], titleX: [25, 34.3], titleY: 761.5, titleSize: 8.3,
  }),
  () => dotPlot({
    ...gpCommon, area: [207.7, 678.3, 335, 840.7], xMin: -0.827, xMax: 1.621, yMin: 0, yMax: 4,
    yTicks: [0, 1, 2, 3, 4], yLabels: [0, 1, 2, 3, 4], labels: groupsVI, labelSize: 8.1, labelPad: 1.4,
    groups: [cd11cLow, cd11cHigh], medians: medianCd11cVI, medHalf: 17, medWidth: 2.2, medColors: ['#2d50e6', '#f24a2c'], maxW: 38,
    bracket: { top: 3.89, leg: 3.67, text: 'p=0.017', gap: 8.4, size: 9.5 },
    xTitle: 'Vulnerability index', xTitleY: 865.7, tickPad: 0.8,
    title: ['CD11c', '(% of total plaque area)'], titleX: [186.5, 195.5], titleY: 760, titleSize: 8.3,
  }),
  () => facetChart({
    area: [430, 697.7, 576, 838], xMin: -0.379, xMax: 10.68, yMin: -0.197, yMax: 3.4,
    xTicks: fTicksXIrf5, yTicks: fTicksYIrf5, xFmt: (v: number) => v.toFixed(1),
    vi: viIrf5, prot: protIrf5, fit: fitIrf5, bandX: bandXIrf5, bandLo: bandLoIrf5, bandHi: bandHiIrf5,
    strip: 'IRF5', annX: 505, annY: 709.3,
    annot: [['r', true], [' = 0.26, ', false], ['p', true], [' = 0.0499', false]],
    yTitle: 'Protein expression (% of total plaque area)', yTitleX: 410.7, yTitleY: 766.7,
    xTitle: 'VI', xTitleX: 586.7, xTitleY: 860,
  }),
  () => facetChart({
    area: [595.7, 697.7, 741.7, 838], xMin: -0.18, xMax: 7.78, yMin: -0.161, yMax: 2.774,
    xTicks: fTicksXCd11c, yTicks: fTicksYCd11c, xFmt: (v: number) => String(v),
    vi: viCd11c, prot: protCd11c, fit: fitCd11c, bandX: bandXCd11c, bandLo: bandLoCd11c, bandHi: bandHiCd11c,
    strip: 'CD11c', annX: 668, annY: 709.3,
    annot: [['r', true], [' = 0.45, ', false], ['p', true], [' = 5e\u221204', false]],
  }),
];

function ChartLayer({ make }: { make: () => any }) {
  const ref = useRef<HTMLCanvasElement>(null);
  useEffect(() => {
    const chart = new Chart(ref.current as any, make());
    return () => chart.destroy();
  }, [make]);
  return <canvas ref={ref} width={PW} height={PH} style={{ position: 'absolute', left: 0, top: 0, width: PW, height: PH }} />;
}

export default function App() {
  return (
    <div style={{ position: 'absolute', left: 0, top: 0, width: PW, height: PH, background: '#fff', overflow: 'hidden' }}>
      {makers.map((m, i) => (
        <ChartLayer key={i} make={m} />
      ))}
    </div>
  );
}
